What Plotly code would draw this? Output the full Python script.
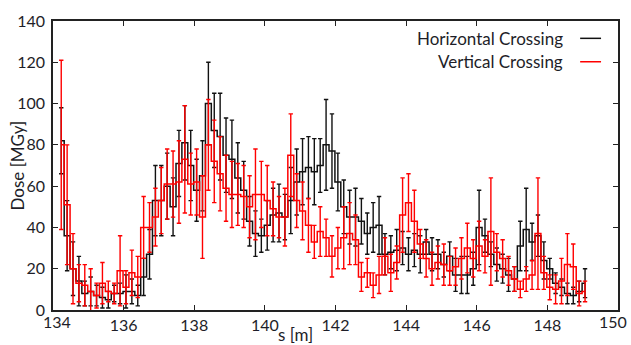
import plotly.graph_objects as go

# --- data -------------------------------------------------------------
bin_start = 134.15      # left edge of first bin [m]
bin_width = 1.0 / 6.0   # bin width [m]
n_bins = 90
s_centers = [round(bin_start + (i + 0.5) * bin_width, 4) for i in range(n_bins)]

horizontal_dose = [82, 36, 20, 14, 8, 9, 7, 6, 5, 8,
                   8, 9, 9, 7, 16, 27, 53, 53, 60, 50,
                   71, 81, 70, 58, 65, 100, 87, 84, 75, 73,
                   64, 58, 43, 37, 36, 41, 46, 47, 45, 53,
                   62, 67, 69, 67, 70, 80, 77, 62, 50, 45,
                   45, 43, 37, 40, 41, 27, 28, 29, 30, 27,
                   29, 27, 33, 27, 27, 22, 26, 17, 17, 17,
                   20, 40, 36, 27, 22, 20, 17, 15, 31, 39,
                   33, 36, 24, 20, 13, 11, 8, 7, 9, 13]
horizontal_err = [16, 17, 13, 12, 6, 7, 5, 5, 4, 4,
                  5, 8, 6, 5, 9, 12, 17, 17, 16, 14,
                  16, 18, 17, 15, 17, 20, 18, 21, 18, 19,
                  17, 14, 12, 11, 8, 12, 13, 14, 11, 16,
                  16, 16, 15, 16, 13, 22, 18, 14, 13, 13,
                  14, 11, 10, 12, 14, 10, 8, 10, 8, 8,
                  8, 9, 6, 8, 7, 6, 7, 8, 9, 9,
                  8, 18, 8, 6, 8, 7, 8, 6, 12, 20,
                  9, 10, 9, 5, 5, 4, 5, 4, 5, 7]

vertical_dose = [80, 51, 20, 13, 12, 9, 7, 13, 9, 8,
                 19, 11, 18, 16, 40, 40, 45, 53, 61, 61,
                 62, 73, 61, 62, 45, 80, 72, 66, 59, 56,
                 56, 55, 50, 56, 56, 53, 49, 45, 45, 75,
                 53, 48, 41, 33, 38, 35, 26, 30, 35, 37,
                 34, 16, 18, 12, 17, 26, 18, 23, 46, 52,
                 43, 32, 25, 20, 23, 22, 19, 21, 25, 30,
                 25, 31, 26, 38, 28, 25, 19, 15, 10, 15,
                 17, 37, 18, 11, 10, 14, 22, 21, 8, 9]
vertical_err = [41, 29, 17, 9, 10, 11, 6, 10, 5, 5,
                17, 8, 11, 10, 15, 12, 14, 16, 17, 16,
                20, 26, 15, 16, 20, 22, 20, 18, 16, 16,
                15, 15, 15, 22, 16, 17, 13, 10, 14, 20,
                13, 14, 13, 8, 12, 9, 10, 10, 15, 15,
                12, 7, 7, 6, 9, 9, 9, 8, 18, 14,
                15, 7, 9, 8, 8, 10, 7, 9, 10, 12,
                9, 12, 8, 26, 9, 9, 7, 6, 4, 6,
                7, 27, 8, 6, 7, 11, 15, 11, 6, 5]

series_names = ["Horizontal Crossing", "Vertical Crossing"]
x_ticks = [134, 136, 138, 140, 142, 144, 146, 148, 150]
y_ticks = [0, 20, 40, 60, 80, 100, 120, 140]

# --- styling ----------------------------------------------------------
FONT = "Lato"
TXT = "#1e1e28"
BLACK = "#111111"
RED = "#ff0000"

fig = go.Figure()


def add_series(x, y, err, color, name):
    fig.add_trace(go.Scatter(
        x=x, y=y, mode="lines", name=name, showlegend=False,
        line=dict(color=color, width=1.5, shape="hvh"),
        error_y=dict(type="data", array=err, visible=True,
                     color=color, thickness=1.4, width=2.2),
    ))


add_series(s_centers, horizontal_dose, horizontal_err, BLACK, series_names[0])
add_series(s_centers, vertical_dose, vertical_err, RED, series_names[1])

axis_common = dict(
    showgrid=False, zeroline=False,
    showline=True, linecolor="#222222", linewidth=1.5, mirror="ticks",
    ticks="inside", ticklen=5, tickwidth=1.3, tickcolor="#222222",
    tickfont=dict(family=FONT, size=16, color=TXT),
)

# end x tick labels sit at the plot corners: draw them as text nudged inwards
edge_shift = {x_ticks[0]: 4, x_ticks[-1]: -5}
x_ticktext = ["" if v in edge_shift else str(v) for v in x_ticks]

fig.update_layout(
    width=631, height=345,
    margin=dict(l=53, r=11, t=15, b=32),
    paper_bgcolor="white", plot_bgcolor="white",
    showlegend=False,
    xaxis=dict(range=[134, 150], tickvals=x_ticks, ticktext=x_ticktext,
               ticklabelstandoff=0, **axis_common),
    yaxis=dict(range=[0, 140], tickvals=y_ticks, ticklabelstandoff=3, **axis_common),
)

for v, shift in edge_shift.items():
    fig.add_annotation(text=str(v), xref="x", yref="paper", x=v, y=0,
                       xshift=shift, yshift=-11, showarrow=False,
                       xanchor="center", yanchor="middle",
                       font=dict(family=FONT, size=16, color=TXT))

# axis titles
fig.add_annotation(text="s [m]", xref="paper", yref="paper", x=0.43, y=0,
                   yshift=-24, showarrow=False, xanchor="center", yanchor="middle",
                   font=dict(family=FONT, size=17, color=TXT))
fig.add_annotation(text="Dose [MGy]", xref="paper", yref="paper", x=0, y=0.5,
                   xshift=-36, showarrow=False, textangle=-90,
                   xanchor="center", yanchor="middle",
                   font=dict(family=FONT, size=17, color=TXT))

# gnuplot-style key: text right-aligned, line sample on the right
key_rows = [(series_names[0], BLACK, 0.94), (series_names[1], RED, 0.859)]
for label, color, ky in key_rows:
    fig.add_annotation(text=label, xref="paper", yref="paper", x=0.907, y=ky,
                       showarrow=False, xanchor="right", yanchor="middle",
                       font=dict(family=FONT, size=17, color=TXT))
    fig.add_shape(type="line", xref="paper", yref="paper",
                  x0=0.933, x1=0.970, y0=ky, y1=ky,
                  line=dict(color=color, width=1.5))

fig.write_html("out.html")
